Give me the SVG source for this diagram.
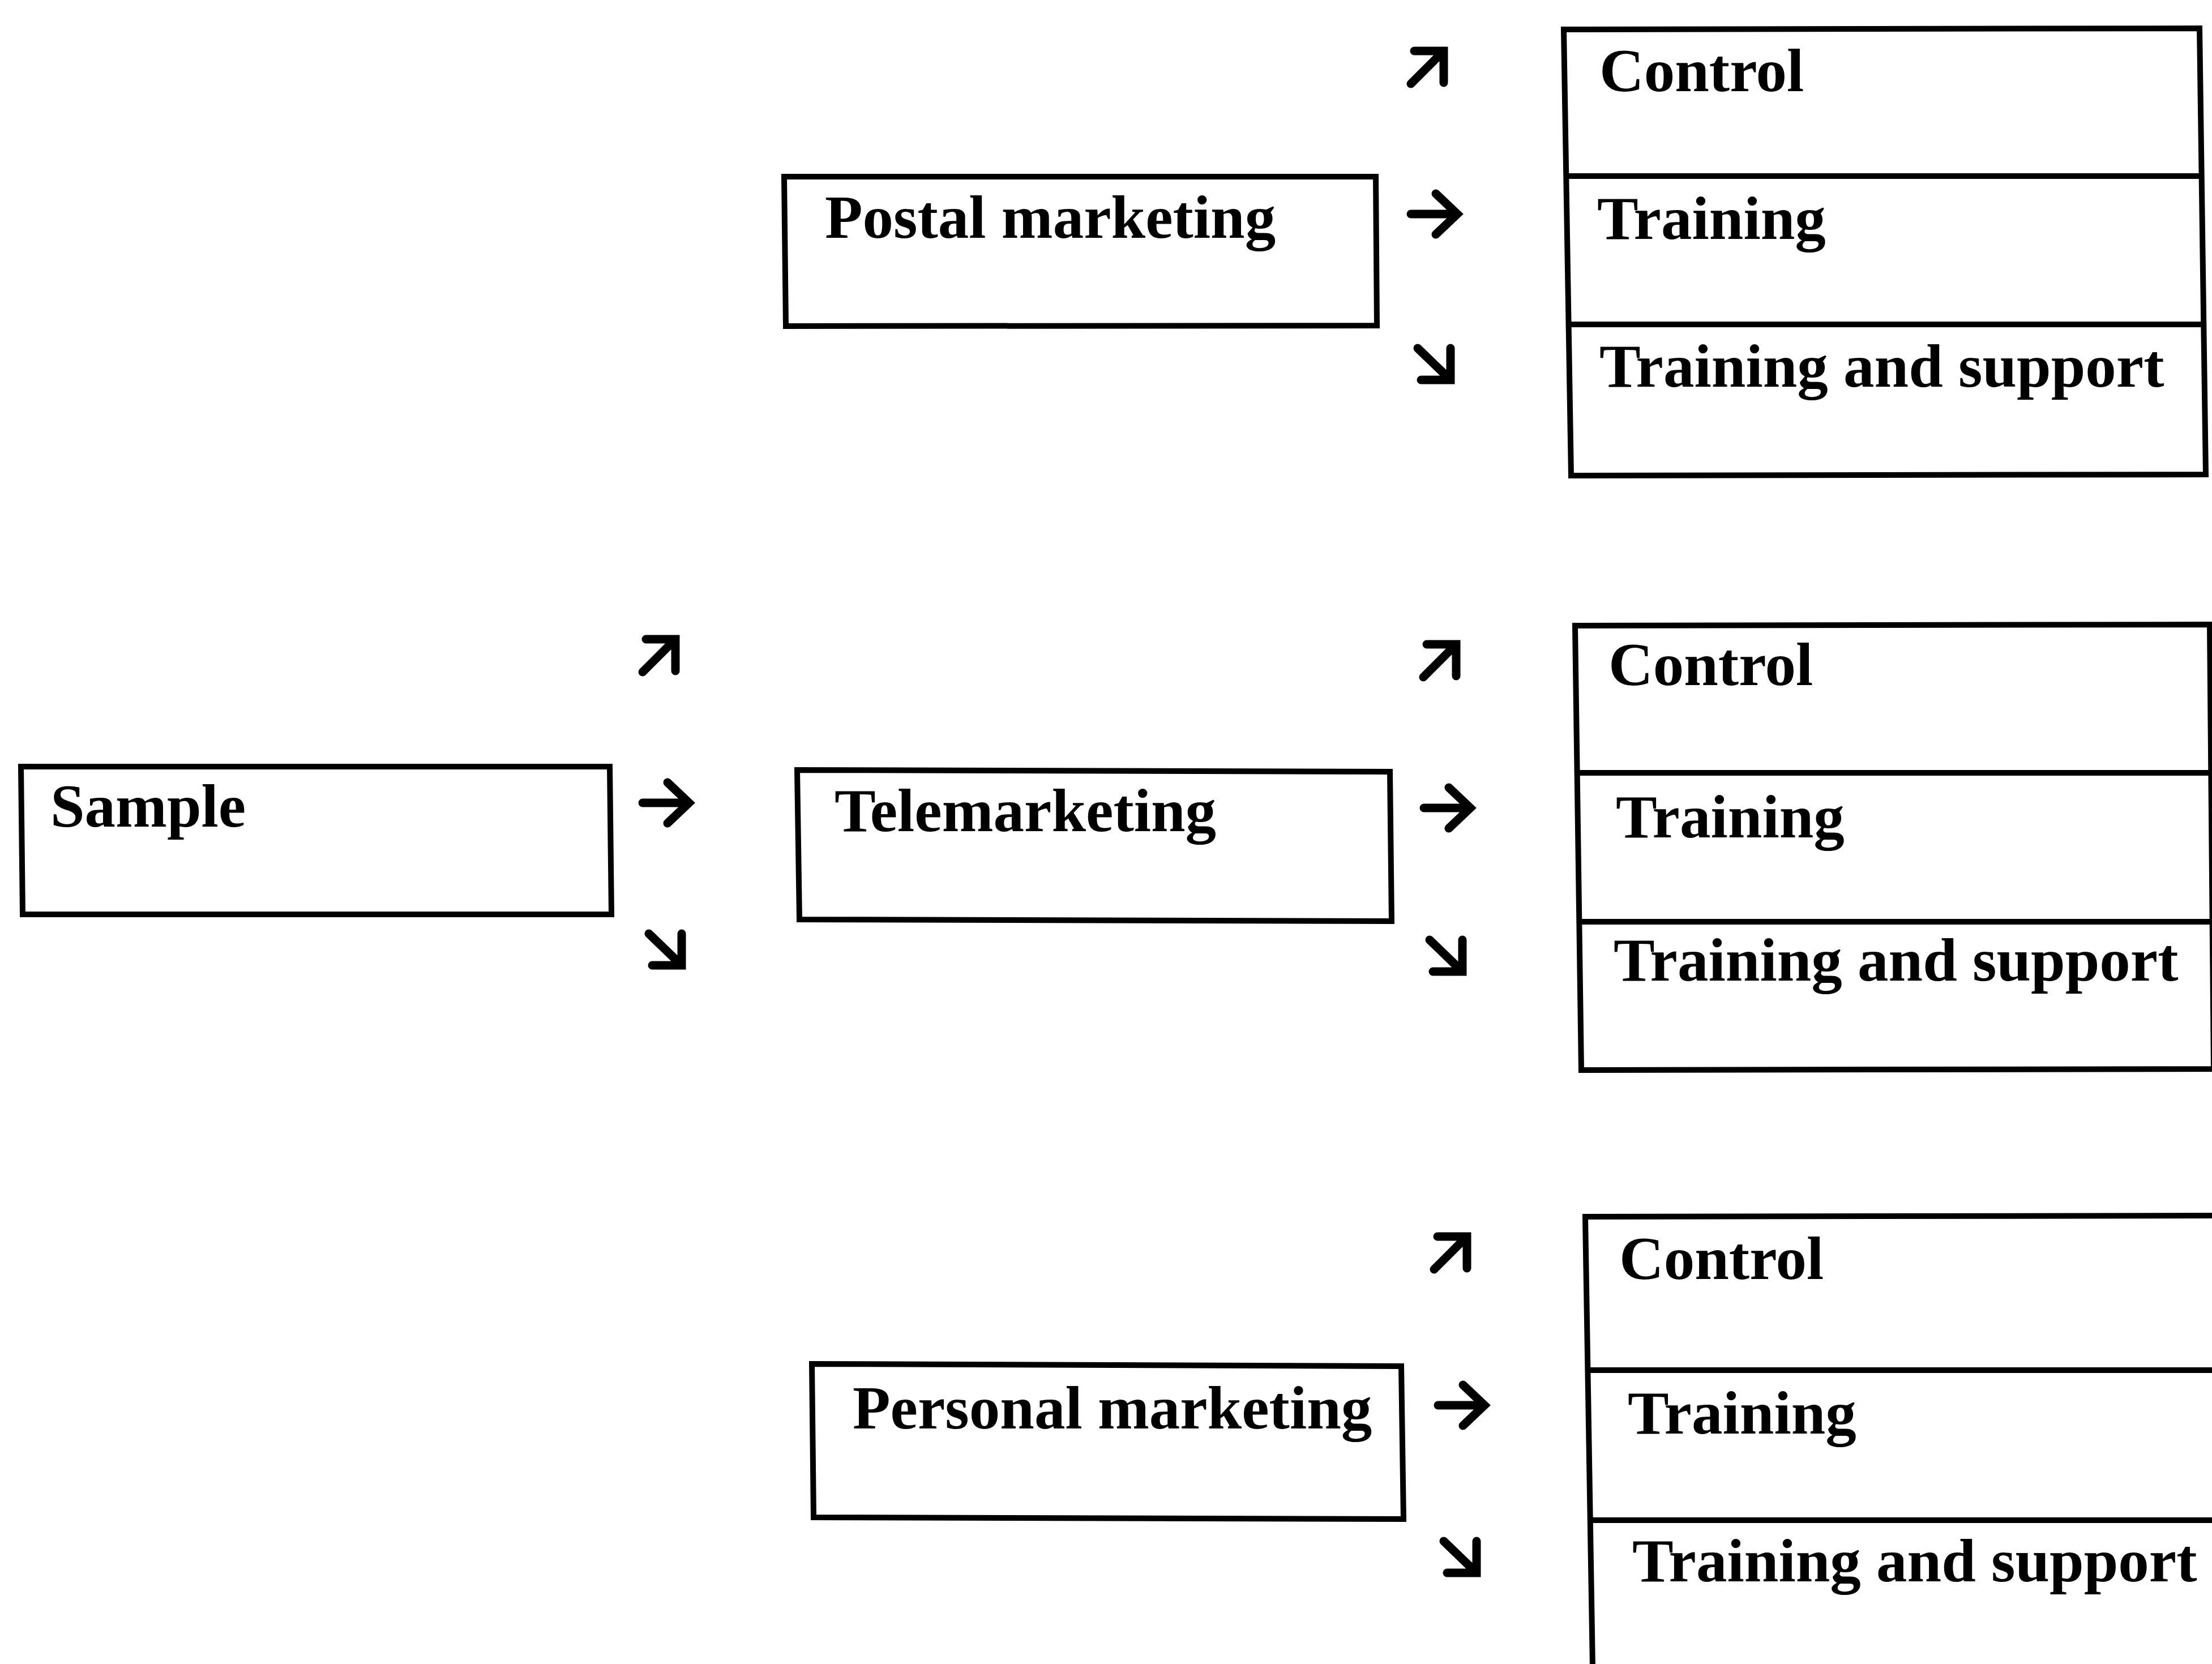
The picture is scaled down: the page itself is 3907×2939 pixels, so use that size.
<svg xmlns="http://www.w3.org/2000/svg" xmlns:xlink="http://www.w3.org/1999/xlink" width="3907" height="2939" viewBox="0 0 3907 2939">
  <style>
    .box { fill: none; stroke: #000; stroke-width: 10; stroke-linejoin: miter; }
    .lbl { font-family: "Liberation Serif", "Times New Roman", serif; font-weight: bold; font-size: 109px; fill: #000; }
    .arr { fill: none; stroke: #000; stroke-width: 15; stroke-linecap: round; stroke-linejoin: miter; }
  </style>
  <defs>
    <!-- short arrow glyph-like connectors, drawn in local coordinates -->
    <path id="arrNE" class="arr" d="M6,66 L62,10 M12,8 H64 V64"/>
    <path id="arrE" class="arr" d="M6,42 H88 M50,6 L88,42 L50,78"/>
    <path id="arrSE" class="arr" d="M6,8 L62,62 M12,64 H64 V8"/>
  </defs>
  <rect width="3907" height="2939" fill="#fff"/>

  <!-- Sample -->
  <g id="sample">
    <path class="box" d="M37,1354 L1077,1354 L1080,1615 L40,1615 Z"/>
    <text class="lbl" x="89" y="1460">Sample</text>
  </g>

  <!-- Marketing channels -->
  <g id="postal">
    <path class="box" d="M1385,312 L2430,312 L2432,575 L1388,576 Z"/>
    <text class="lbl" x="1457" y="420">Postal marketing</text>
  </g>
  <g id="tele">
    <path class="box" d="M1408,1360 L2455,1363 L2458,1627 L1412,1624 Z"/>
    <text class="lbl" x="1474" y="1468">Telemarketing</text>
  </g>
  <g id="personal">
    <path class="box" d="M1434,2409 L2475,2413 L2479,2683 L1437,2680 Z"/>
    <text class="lbl" x="1506" y="2523">Personal marketing</text>
  </g>

  <!-- Treatment groups per channel -->
  <g id="postal-groups">
    <path class="box" d="M2762,52 L3885,50 L3896,838 L2775,840 Z M2766,311 L3888,311 M2770,573 L3892,573"/>
    <text class="lbl" x="2825" y="161">Control</text>
    <text class="lbl" x="2821" y="422">Training</text>
    <text class="lbl" x="2825" y="683">Training and support</text>
  </g>
  <g id="tele-groups">
    <path class="box" d="M2782,1105 L3903,1103 L3910,1888 L2793,1890 Z M2786,1365 L3905,1365 M2790,1628 L3908,1628"/>
    <text class="lbl" x="2841" y="1210">Control</text>
    <text class="lbl" x="2854" y="1479">Training</text>
    <text class="lbl" x="2850" y="1732">Training and support</text>
  </g>
  <g id="personal-groups">
    <path class="box" d="M3920,2147 L2800,2149 L2813,2945 M2805,2420 L3920,2420 M2809,2685 L3920,2685"/>
    <text class="lbl" x="2860" y="2259">Control</text>
    <text class="lbl" x="2875" y="2532">Training</text>
    <text class="lbl" x="2883" y="2793">Training and support</text>
  </g>

  <!-- Connectors -->
  <g id="connectors">
    <use xlink:href="#arrNE" x="1129" y="1121"/>
    <use xlink:href="#arrE" x="1129" y="1376"/>
    <use xlink:href="#arrSE" x="1140" y="1641"/>

    <use xlink:href="#arrNE" x="2486" y="82"/>
    <use xlink:href="#arrE" x="2486" y="336"/>
    <use xlink:href="#arrSE" x="2498" y="607"/>

    <use xlink:href="#arrNE" x="2508" y="1130"/>
    <use xlink:href="#arrE" x="2509" y="1385"/>
    <use xlink:href="#arrSE" x="2519" y="1652"/>

    <use xlink:href="#arrNE" x="2527" y="2176"/>
    <use xlink:href="#arrE" x="2534" y="2440"/>
    <use xlink:href="#arrSE" x="2544" y="2714"/>
  </g>
</svg>
